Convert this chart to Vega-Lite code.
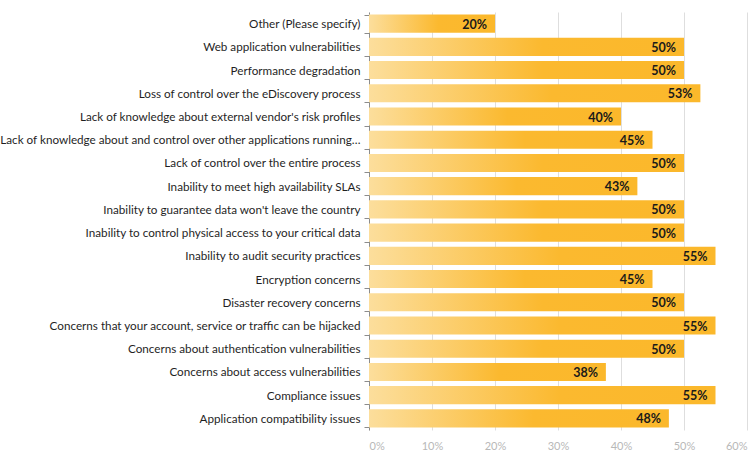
{
  "$schema": "https://vega.github.io/schema/vega-lite/v6.json",
  "width": 378,
  "height": 418,
  "autosize": {"type": "none"},
  "padding": {"left": 369, "top": 12, "right": 1, "bottom": 21},
  "background": "white",
  "config": {"view": {"stroke": null}, "font": "Lato"},
  "data": {
    "values": [
      {"item": "Other (Please specify)", "pct": 0.20},
      {"item": "Web application vulnerabilities", "pct": 0.50},
      {"item": "Performance degradation", "pct": 0.50},
      {"item": "Loss of control over the eDiscovery process", "pct": 0.526},
      {"item": "Lack of knowledge about external vendor's risk profiles", "pct": 0.40},
      {"item": "Lack of knowledge about and control over other applications running…", "pct": 0.45},
      {"item": "Lack of control over the entire process", "pct": 0.50},
      {"item": "Inability to meet high availability SLAs", "pct": 0.426},
      {"item": "Inability to guarantee data won't leave the country", "pct": 0.50},
      {"item": "Inability to control physical access to your critical data", "pct": 0.50},
      {"item": "Inability to audit security practices", "pct": 0.55},
      {"item": "Encryption concerns", "pct": 0.45},
      {"item": "Disaster recovery concerns", "pct": 0.50},
      {"item": "Concerns that your account, service or traffic can be hijacked", "pct": 0.55},
      {"item": "Concerns about authentication vulnerabilities", "pct": 0.50},
      {"item": "Concerns about access vulnerabilities", "pct": 0.376},
      {"item": "Compliance issues", "pct": 0.55},
      {"item": "Application compatibility issues", "pct": 0.476}
    ]
  },
  "encoding": {
    "y": {
      "field": "item",
      "type": "nominal",
      "sort": null,
      "title": null,
      "scale": {"paddingInner": 0.22, "paddingOuter": 0.11},
      "axis": {
        "tickBand": "extent",
        "domainColor": "#8c8c8c",
        "tickColor": "#8c8c8c",
        "tickSize": 5,
        "labelPadding": 4,
        "labelFontSize": 11.7,
        "labelColor": "#1f1f1f",
        "labelFont": "Lato",
        "labelLimit": 400,
        "grid": false
      }
    },
    "x": {
      "field": "pct",
      "type": "quantitative",
      "title": null,
      "scale": {"domain": [0, 0.6], "nice": false},
      "axis": {
        "format": ".0%",
        "values": [0, 0.1, 0.2, 0.3, 0.4, 0.5, 0.6],
        "domain": false,
        "ticks": false,
        "gridColor": "#dedede",
        "gridWidth": 1,
        "labelColor": "#b8b8b8",
        "labelFontSize": 11,
        "labelPadding": 10,
        "labelFont": "Lato",
        "labelOverlap": false
      }
    }
  },
  "layer": [
    {
      "mark": {
        "type": "bar",
        "cornerRadius": 0,
        "color": {
          "gradient": "linear",
          "x1": 0, "y1": 0, "x2": 1, "y2": 0,
          "stops": [
            {"offset": 0, "color": "#fcde9c"},
            {"offset": 0.55, "color": "#fbb92f"},
            {"offset": 1, "color": "#fbb82b"}
          ]
        }
      }
    },
    {
      "mark": {
        "type": "text",
        "align": "right",
        "baseline": "middle",
        "dx": -8,
        "dy": 1,
        "fontWeight": "bold",
        "fontSize": 12.5,
        "font": "Lato",
        "color": "#1a1a1a"
      },
      "encoding": {
        "text": {"field": "pct", "type": "quantitative", "format": ".0%"}
      }
    }
  ]
}
